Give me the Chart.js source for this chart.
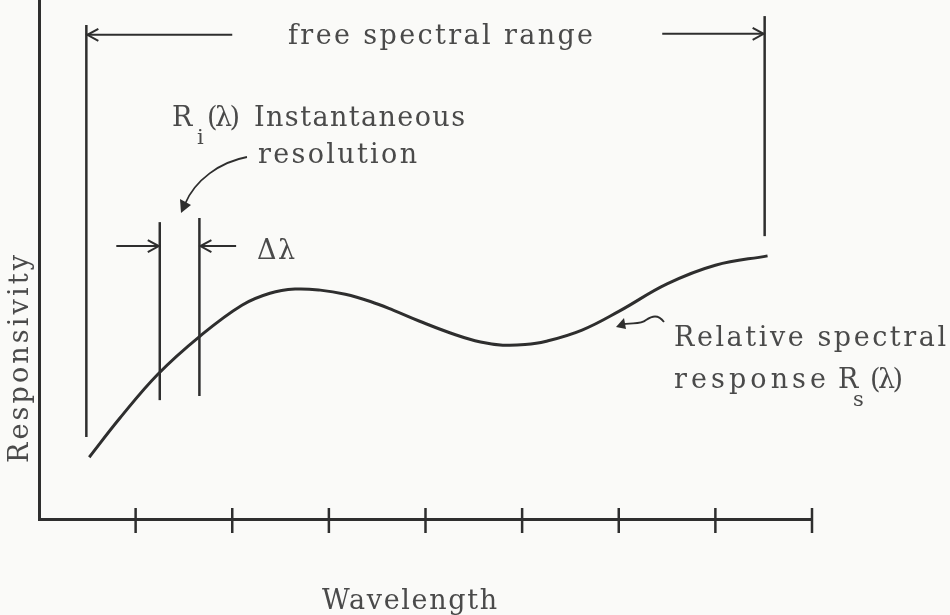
<!DOCTYPE html>
<html>
<head>
<meta charset="utf-8">
<script src="https://cdn.jsdelivr.net/npm/chart.js@4.4.1/dist/chart.umd.min.js"></script>
<style>
  html, body { margin: 0; padding: 0; background: #fafaf8; }
  #wrap { width: 950px; height: 615px; }
</style>
</head>
<body>
<div id="wrap"><canvas id="respChart"></canvas></div>
<script>
// Relative spectral response (x in tick units, y in arbitrary units)
const wavelength   = [0.52, 0.84, 1.23, 1.67, 2.10, 2.39, 2.65, 2.91, 3.17, 3.43, 3.67, 3.94, 4.31, 4.57, 4.80, 5.03, 5.24, 5.62, 6.01, 6.50, 7.00, 7.54];
const responsivity = [1.19, 1.95, 2.79, 3.53, 4.12, 4.35, 4.43, 4.41, 4.33, 4.19, 4.02, 3.81, 3.55, 3.41, 3.35, 3.36, 3.42, 3.64, 4.01, 4.53, 4.89, 5.07];
const xTicks = [1, 2, 3, 4, 5, 6, 7, 8];

// free spectral range limits
const fsrX = [0.49, 7.51];
const fsrTop = [9.52, 9.69];
const fsrBottom = [1.58, 5.45];
const fsrArrowY = 9.33;
const fsrArrowEnds = [2.0, 6.45];

// instantaneous resolution (delta lambda) limits
const dlX = [1.25, 1.66];
const dlTop = [5.72, 5.80];
const dlBottom = [2.29, 2.37];
const dlArrowY = 5.26;
const dlArrowEnds = [0.80, 2.04];

const ink = '#2e2e2e';
const textInk = '#4a4a4a';
const serif = '"DejaVu Serif", "Liberation Serif", serif';

function seg(x, y0, y1) {
  return { data: [{ x: x, y: y0 }, { x: x, y: y1 }], borderColor: ink, borderWidth: 2.5, pointRadius: 0, tension: 0 };
}

const curve = wavelength.map((w, i) => ({ x: w, y: responsivity[i] }));

function arrowHead(ctx, x, y, dir) {
  // open V head pointing in direction dir (+1 right, -1 left)
  ctx.beginPath();
  ctx.moveTo(x - dir * 11, y - 6);
  ctx.lineTo(x, y);
  ctx.lineTo(x - dir * 11, y + 6);
  ctx.stroke();
}

function fitText(ctx, text, x, y, width, font) {
  ctx.font = font;
  ctx.letterSpacing = '0px';
  const w = ctx.measureText(text).width;
  const sp = (width - w) / Math.max(1, text.length - 1);
  ctx.letterSpacing = sp.toFixed(2) + 'px';
  ctx.textAlign = 'left';
  ctx.fillText(text, x, y);
  ctx.letterSpacing = '0px';
}

const decor = {
  id: 'decor',
  afterDatasetsDraw(chart) {
    const { ctx, scales: { x, y } } = chart;
    ctx.save();
    ctx.strokeStyle = ink;
    ctx.fillStyle = ink;
    ctx.lineWidth = 2.5;
    ctx.lineCap = 'butt';

    // tick marks crossing the wavelength axis
    const base = y.getPixelForValue(0);
    xTicks.forEach(t => {
      const px = x.getPixelForValue(t);
      ctx.beginPath();
      ctx.moveTo(px, base - 11);
      ctx.lineTo(px, base + 14);
      ctx.stroke();
    });

    // free spectral range arrows
    ctx.lineWidth = 2;
    const fy = y.getPixelForValue(fsrArrowY);
    const l0 = x.getPixelForValue(fsrX[0]), l1 = x.getPixelForValue(fsrArrowEnds[0]);
    const r0 = x.getPixelForValue(fsrArrowEnds[1]), r1 = x.getPixelForValue(fsrX[1]);
    ctx.beginPath(); ctx.moveTo(l1, fy); ctx.lineTo(l0, fy); ctx.stroke();
    arrowHead(ctx, l0 + 1, fy, -1);
    ctx.beginPath(); ctx.moveTo(r0, fy - 1); ctx.lineTo(r1, fy - 1); ctx.stroke();
    arrowHead(ctx, r1 - 1, fy - 1, 1);

    // delta lambda arrows
    const dy = y.getPixelForValue(dlArrowY);
    const a0 = x.getPixelForValue(dlArrowEnds[0]), a1 = x.getPixelForValue(dlX[0]);
    const b0 = x.getPixelForValue(dlArrowEnds[1]), b1 = x.getPixelForValue(dlX[1]);
    ctx.beginPath(); ctx.moveTo(a0, dy); ctx.lineTo(a1, dy); ctx.stroke();
    arrowHead(ctx, a1 - 1, dy, 1);
    ctx.beginPath(); ctx.moveTo(b0, dy); ctx.lineTo(b1, dy); ctx.stroke();
    arrowHead(ctx, b1 + 1, dy, -1);

    // curved pointer to the resolution lines
    ctx.lineWidth = 1.8;
    ctx.beginPath();
    ctx.moveTo(247, 157);
    ctx.bezierCurveTo(220, 162, 195, 180, 185, 204);
    ctx.stroke();
    ctx.beginPath();
    ctx.moveTo(181, 213);
    ctx.lineTo(180, 199);
    ctx.lineTo(191, 205);
    ctx.closePath();
    ctx.fill();

    // squiggle pointer to the curve
    ctx.beginPath();
    ctx.moveTo(664, 322);
    ctx.bezierCurveTo(658, 314, 652, 316, 646, 320);
    ctx.bezierCurveTo(640, 325, 632, 322, 620, 325);
    ctx.stroke();
    ctx.beginPath();
    ctx.moveTo(616, 327);
    ctx.lineTo(624, 318);
    ctx.lineTo(626, 329);
    ctx.closePath();
    ctx.fill();

    // labels
    ctx.fillStyle = textInk;
    ctx.textBaseline = 'alphabetic';
    const big = '27px ' + serif;
    const sub = '21px ' + serif;
    fitText(ctx, 'free spectral range', 288, 44, 305, big);
    fitText(ctx, 'R', 172, 126, 17, big);
    fitText(ctx, 'i', 197, 144, 6, sub);
    fitText(ctx, '(\u03bb)', 207, 126, 33, big);
    fitText(ctx, 'Instantaneous', 254, 126, 211, big);
    fitText(ctx, 'resolution', 258, 163, 159, big);
    fitText(ctx, '\u0394\u03bb', 257, 259, 38, big);
    fitText(ctx, 'Relative spectral', 674, 346, 272, big);
    fitText(ctx, 'response', 674, 388, 152, big);
    fitText(ctx, 'R', 838, 388, 17, big);
    fitText(ctx, 's', 853, 406, 10, sub);
    fitText(ctx, '(\u03bb)', 870, 388, 33, big);
    fitText(ctx, 'Wavelength', 322, 609, 175, big);

    ctx.save();
    ctx.translate(28, 463);
    ctx.rotate(-Math.PI / 2);
    fitText(ctx, 'Responsivity', 0, 0, 208, big);
    ctx.restore();

    ctx.restore();
  }
};

new Chart(document.getElementById('respChart'), {
  type: 'line',
  data: {
    datasets: [
      { data: curve, borderColor: ink, borderWidth: 3, pointRadius: 0, tension: 0.4 },
      seg(fsrX[0], fsrBottom[0], fsrTop[0]),
      seg(fsrX[1], fsrBottom[1], fsrTop[1]),
      seg(dlX[0], dlBottom[0], dlTop[0]),
      seg(dlX[1], dlBottom[1], dlTop[1])
    ]
  },
  options: {
    responsive: true,
    maintainAspectRatio: false,
    animation: false,
    layout: { padding: { left: 39, right: 138, top: 0, bottom: 96 } },
    plugins: { legend: { display: false }, tooltip: { enabled: false } },
    scales: {
      x: {
        type: 'linear', min: 0, max: 8,
        grid: { display: false, drawTicks: false },
        ticks: { display: false },
        border: { display: true, color: ink, width: 3 }
      },
      y: {
        type: 'linear', min: 0, max: 10,
        grid: { display: false, drawTicks: false },
        ticks: { display: false },
        border: { display: true, color: ink, width: 3 }
      }
    }
  },
  plugins: [decor]
});
</script>
</body>
</html>
